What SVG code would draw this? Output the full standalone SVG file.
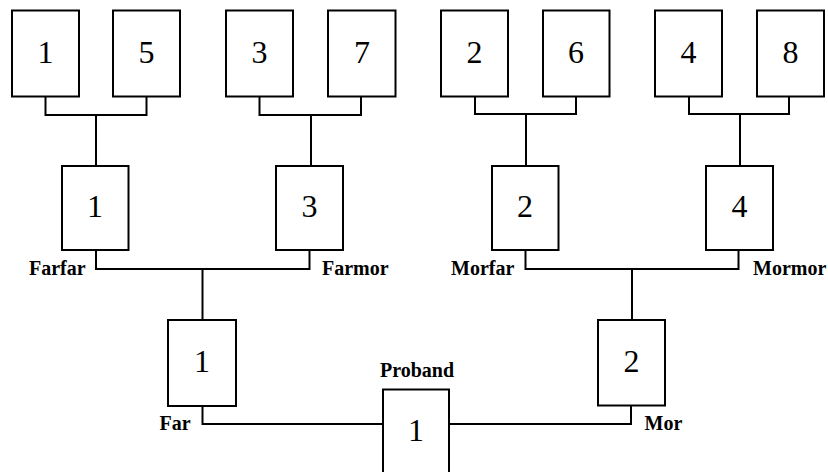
<svg xmlns="http://www.w3.org/2000/svg" width="828" height="472" viewBox="0 0 828 472">
<style>
.box{fill:#fff;stroke:#000;stroke-width:2}
.num{font-family:"Liberation Serif","Times New Roman",serif;font-size:32px;text-anchor:middle;fill:#000}
.lbl{font-family:"Liberation Serif","Times New Roman",serif;font-size:20px;font-weight:bold;fill:#000}
.con{fill:none;stroke:#000;stroke-width:2}
</style>
<rect width="828" height="472" fill="#fff"/>
<g id="connectors">
<path class="con" d="M45.5 96.5V115H146.5V96.5M96 115V166"/>
<path class="con" d="M259.5 96.5V115H361V96.5M311 115V166"/>
<path class="con" d="M475 96.5V114H576V96.5M526 114V166"/>
<path class="con" d="M689 96.5V114H789V96.5M740 114V166"/>
<path class="con" d="M96 250V269H309.5V250M202.5 269V320"/>
<path class="con" d="M525.5 250V269H738.5V250M632 269V320"/>
<path class="con" d="M202.5 406V424H383"/>
<path class="con" d="M631 405.5V424H449"/>
</g>
<g id="ff-1"><rect class="box" x="12" y="10.5" width="67" height="86"/><text class="num" x="45.5" y="63">1</text></g>
<g id="ff-5"><rect class="box" x="113" y="10.5" width="67" height="86"/><text class="num" x="146.5" y="63">5</text></g>
<g id="fm-3"><rect class="box" x="226" y="10.5" width="67" height="86"/><text class="num" x="259.5" y="63">3</text></g>
<g id="fm-7"><rect class="box" x="328" y="10.5" width="67.5" height="86"/><text class="num" x="362" y="63">7</text></g>
<g id="mf-2"><rect class="box" x="441" y="10.5" width="67" height="86"/><text class="num" x="474.5" y="63">2</text></g>
<g id="mf-6"><rect class="box" x="543" y="10.5" width="66.5" height="86"/><text class="num" x="576" y="63">6</text></g>
<g id="mm-4"><rect class="box" x="655" y="10.5" width="67" height="86"/><text class="num" x="688.5" y="63">4</text></g>
<g id="mm-8"><rect class="box" x="757" y="10.5" width="67" height="86"/><text class="num" x="790.5" y="63">8</text></g>
<g id="farfar"><rect class="box" x="62" y="166" width="66.5" height="84"/><text class="num" x="95" y="217">1</text><text class="lbl" x="29" y="274.5">Farfar</text></g>
<g id="farmor"><rect class="box" x="276" y="166" width="67" height="84"/><text class="num" x="309.5" y="217">3</text><text class="lbl" x="322" y="274.5">Farmor</text></g>
<g id="morfar"><rect class="box" x="492" y="166" width="66.5" height="84"/><text class="num" x="525" y="217">2</text><text class="lbl" x="451" y="274.5">Morfar</text></g>
<g id="mormor"><rect class="box" x="706" y="166" width="67" height="84"/><text class="num" x="739.5" y="217">4</text><text class="lbl" x="753" y="274.5">Mormor</text></g>
<g id="far"><rect class="box" x="168" y="320" width="68" height="86"/><text class="num" x="202" y="372">1</text><text class="lbl" x="159.5" y="429.5">Far</text></g>
<g id="mor"><rect class="box" x="598" y="320" width="67" height="85.5"/><text class="num" x="631.5" y="372">2</text><text class="lbl" x="644.5" y="429.5">Mor</text></g>
<g id="proband"><rect class="box" x="383" y="389.5" width="66" height="100"/><text class="num" x="416" y="441">1</text><text class="lbl" x="380" y="377">Proband</text></g>
</svg>
